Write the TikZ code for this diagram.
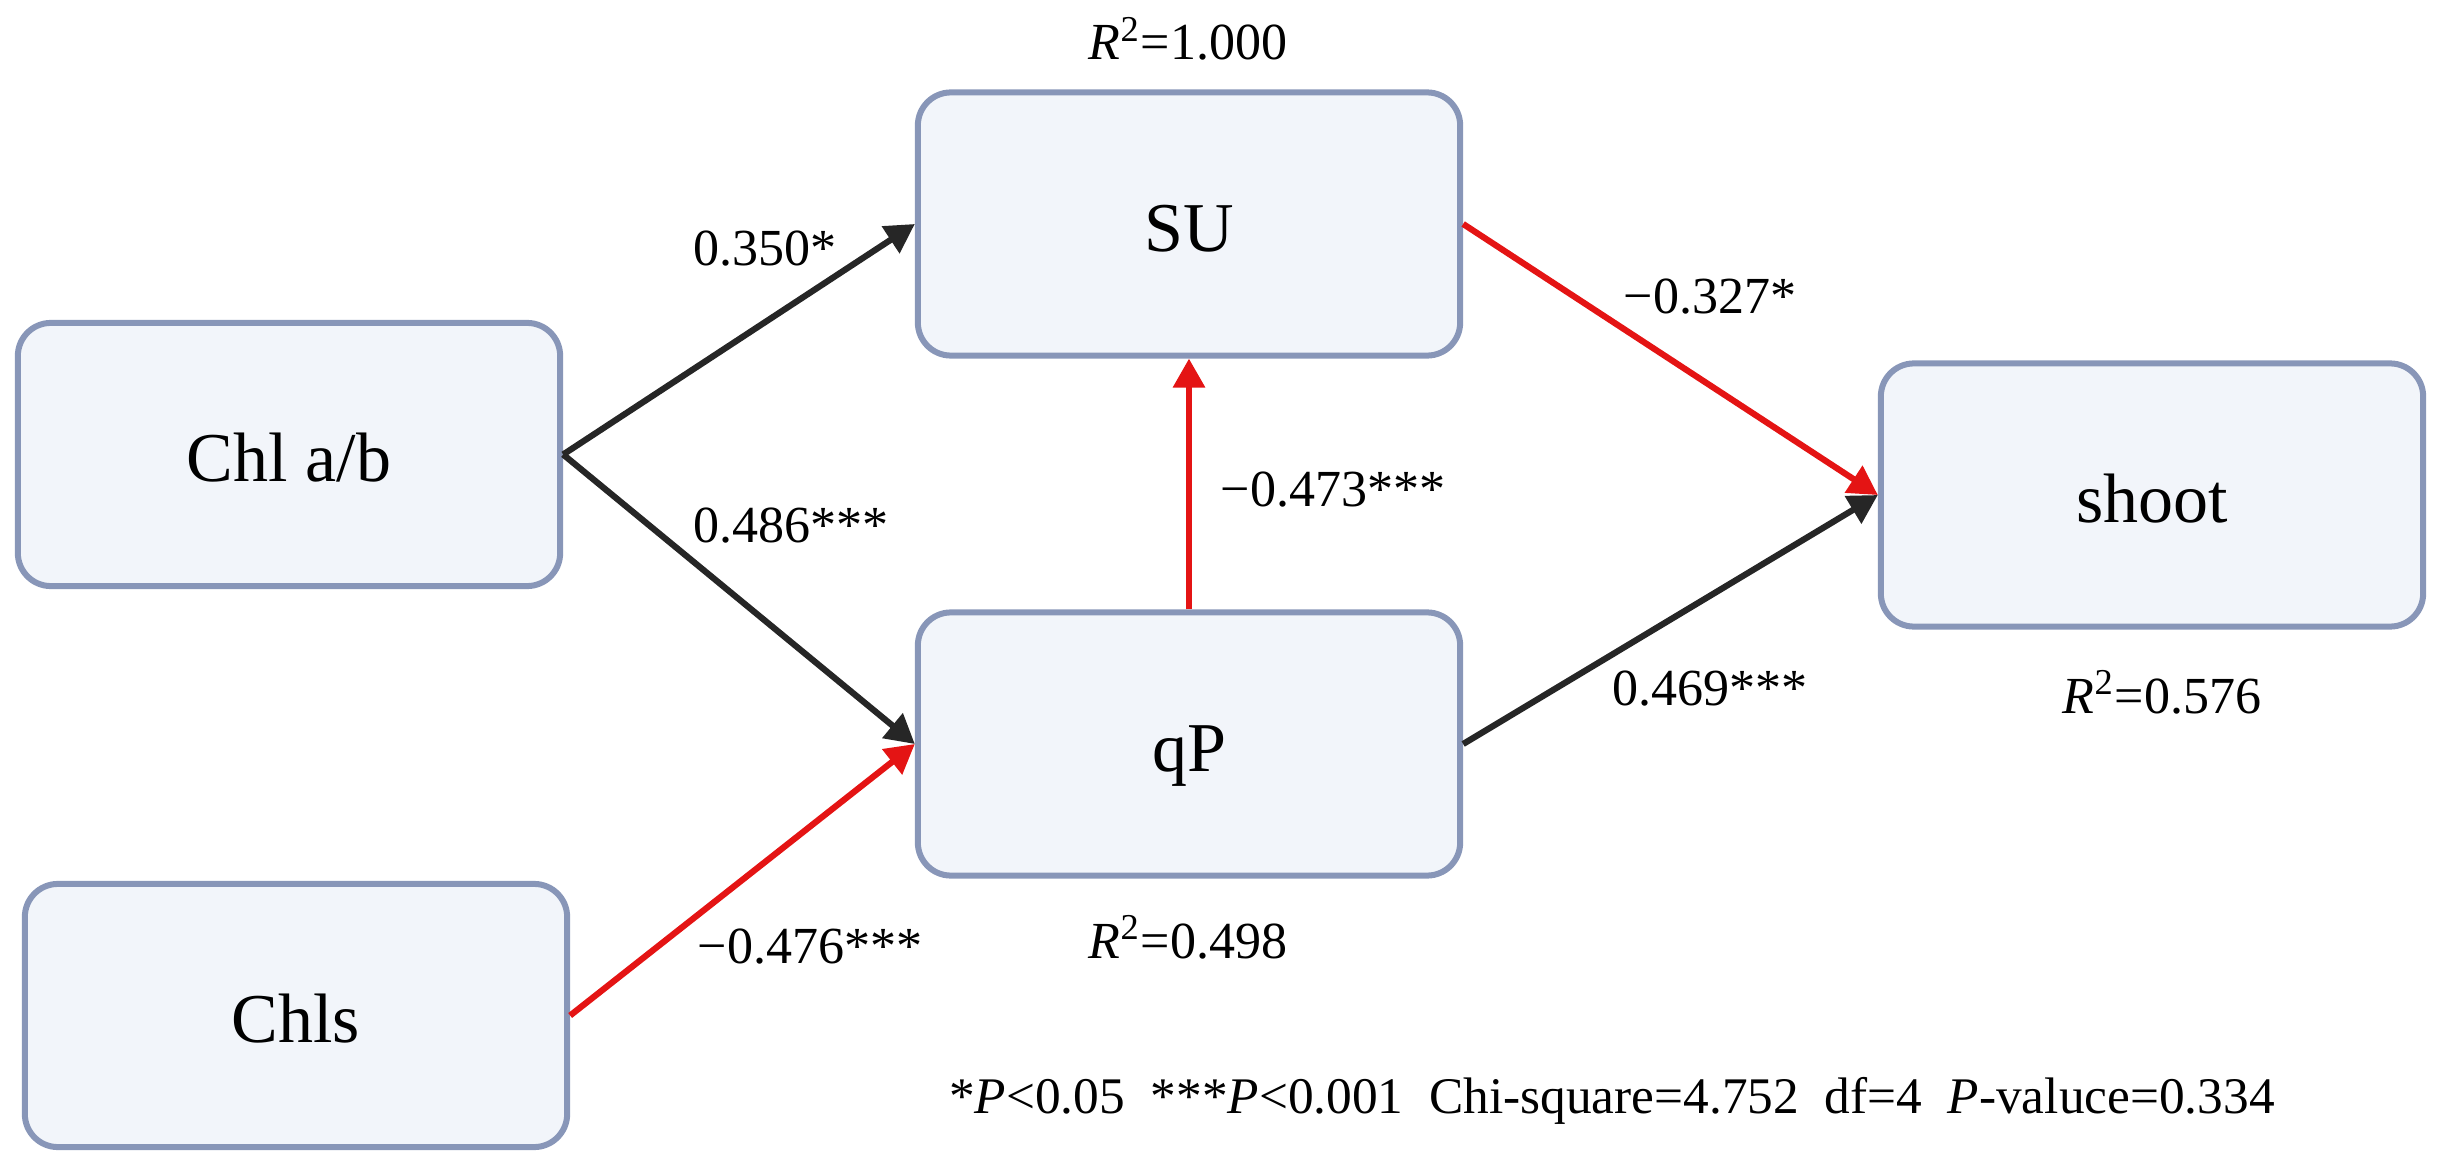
\documentclass[tikz,border=0pt]{standalone}
\usepackage{fontspec}
\setmainfont{Liberation Serif}
\usetikzlibrary{arrows.meta}
\definecolor{boxborder}{RGB}{136,150,184}
\definecolor{boxfill}{RGB}{242,245,250}
\definecolor{redline}{RGB}{228,20,20}
\definecolor{blackline}{RGB}{38,38,38}
\begin{document}
\begin{tikzpicture}[x=0.01cm,y=-0.01cm,
  varbox/.style={draw=boxborder, fill=boxfill, line width=0.06cm, rounded corners=0.33cm,
    minimum width=5.42cm, minimum height=2.63cm, inner sep=0pt,
    text height=0.54cm, text depth=0cm, font=\fontsize{19.9}{24}\selectfont},
  lbl/.style={font=\fontsize{14.8}{18}\selectfont, inner sep=0pt, anchor=base west},
  rlbl/.style={font=\fontsize{14.8}{18}\selectfont, inner sep=0pt, anchor=base},
  posarrow/.style={draw=blackline, line width=0.062cm, -{Triangle[length=0.29cm,width=0.31cm]}},
  negarrow/.style={draw=redline, line width=0.062cm, -{Triangle[length=0.29cm,width=0.31cm]}}]
\useasboundingbox (0,0) rectangle (2447,1176);

\node[varbox] (chlab) at (289,454.5) {Chl a/b};
\node[varbox] (chls) at (296,1015.5) {Chls};
\node[varbox] (su) at (1189,224) {SU};
\node[varbox] (qp) at (1189,744) {qP};
\node[varbox] (shoot) at (2152,495) {shoot};

\draw[posarrow] (chlab.east) -- (su.west);
\draw[posarrow] (chlab.east) -- (qp.west);
\draw[negarrow] (chls.east) -- (qp.west);
\draw[negarrow] (qp.north) -- (su.south);
\draw[negarrow] (su.east) -- (shoot.west);
\draw[posarrow] (qp.east) -- (shoot.west);

\node[lbl] (l1) at (693,266) {0.350*};
\node[lbl] (l2) at (693,542) {0.486***};
\node[lbl] (l3) at (1220,506) {−0.473***};
\node[lbl] (l4) at (697,963) {−0.476***};
\node[lbl] (l5) at (1623,314) {−0.327*};
\node[lbl] (l6) at (1612,705) {0.469***};

\node[rlbl] (r1) at (1188,60) {\textit{R}\textsuperscript{2}=1.000};
\node[rlbl] (r2) at (1188,958) {\textit{R}\textsuperscript{2}=0.498};
\node[rlbl] (r3) at (2162,713) {\textit{R}\textsuperscript{2}=0.576};

\node[rlbl, font=\fontsize{14.6}{18}\selectfont] (note) at (1612,1113) {*\textit{P}<0.05\hspace{0.5em}***\textit{P}<0.001\hspace{0.5em}Chi-square=4.752\hspace{0.5em}df=4\hspace{0.5em}\textit{P}-valuce=0.334};
\end{tikzpicture}
\end{document}
